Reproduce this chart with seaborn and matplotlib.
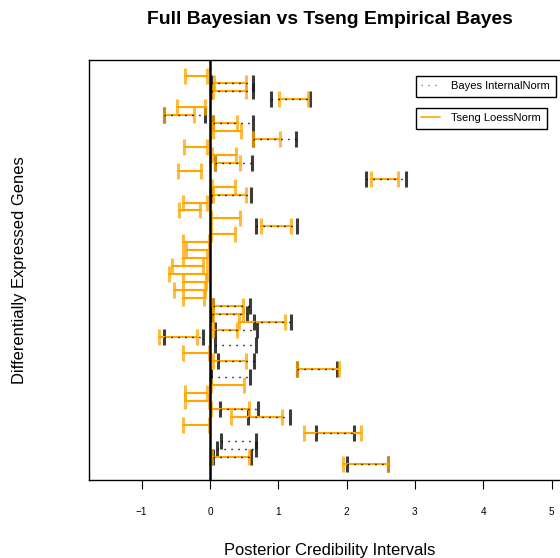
import numpy as np
import pandas as pd
import matplotlib
matplotlib.use("Agg")
import matplotlib.pyplot as plt
from matplotlib.lines import Line2D
import seaborn as sns

nan = np.nan
# gene index (1 = top row)
gene = list(range(1, 51))
bayes_lo = [nan, 0.02, 0.02, 0.90, nan, -0.67, 0.05, nan, 0.63, nan,
            nan, 0.08, nan, 2.28, nan, 0.02, nan, nan, nan, 0.67,
            nan, nan, nan, nan, nan, nan, nan, nan, nan, 0.04,
            0.03, 0.64, 0.08, -0.67, 0.08, nan, 0.11, 1.27, 0.02, nan,
            nan, nan, 0.15, 0.56, nan, 1.55, 0.16, 0.10, 0.04, 2.00]
bayes_hi = [nan, 0.63, 0.63, 1.47, nan, -0.08, 0.63, nan, 1.26, nan,
            nan, 0.62, nan, 2.87, nan, 0.60, nan, nan, nan, 1.28,
            nan, nan, nan, nan, nan, nan, nan, nan, nan, 0.58,
            0.54, 1.19, 0.69, -0.10, 0.67, nan, 0.65, 1.86, 0.59, nan,
            nan, nan, 0.70, 1.17, nan, 2.11, 0.68, 0.67, 0.60, 2.61]
tseng_lo = [-0.37, 0.06, 0.04, 1.01, -0.49, -0.68, 0.05, 0.05, 0.63, -0.38,
            0.03, 0.08, -0.47, 2.36, 0.03, 0.04, -0.40, -0.45, 0.015, 0.75,
            0.015, -0.39, -0.35, -0.39, -0.55, -0.60, -0.39, -0.53, -0.40, 0.05,
            0.04, 0.43, 0.04, -0.75, nan, -0.39, 0.04, 1.28, nan, 0.02,
            -0.37, -0.36, 0.02, 0.31, -0.39, 1.38, nan, nan, 0.03, 1.95]
tseng_hi = [-0.04, 0.52, 0.52, 1.44, -0.07, -0.24, 0.40, 0.45, 1.02, -0.04,
            0.38, 0.44, -0.13, 2.75, 0.36, 0.53, -0.05, -0.14, 0.44, 1.19,
            0.36, -0.01, -0.02, -0.04, -0.10, -0.04, -0.06, -0.07, -0.09, 0.49,
            0.48, 1.10, 0.40, -0.19, nan, -0.02, 0.53, 1.89, nan, 0.50,
            -0.04, -0.02, 0.57, 1.06, -0.02, 2.21, nan, nan, 0.57, 2.61]
x_ticks = [-1, 0, 1, 2, 3, 4, 5]
legend_labels = ["Bayes InternalNorm", "Tseng LoessNorm"]

sns.set_style("white")
plt.rcParams["font.family"] = ["Liberation Sans", "DejaVu Sans"]
plt.rcParams["text.color"] = "black"
plt.rcParams["axes.labelcolor"] = "black"
plt.rcParams["xtick.color"] = "black"
plt.rcParams["ytick.color"] = "black"

W, H = 560, 558
fig = plt.figure(figsize=(W / 100, H / 100), dpi=100)
ax = fig.add_axes([89.3 / W, 1 - 480 / H, (570 - 89.3) / W, 420 / H])

def long_form(lo, hi):
    df = pd.DataFrame({"gene": gene, "lo": lo, "hi": hi}).dropna()
    return df.melt(id_vars="gene", value_vars=["lo", "hi"],
                   var_name="end", value_name="x")

t_long = long_form(tseng_lo, tseng_hi)
b_long = long_form(bayes_lo, bayes_hi)

ORANGE = "#FFA500"
# Tseng lines
sns.lineplot(data=t_long, x="x", y="gene", units="gene", estimator=None,
             color=ORANGE, linewidth=1.5, ax=ax, legend=False)
# Bayes dotted lines
sns.lineplot(data=b_long, x="x", y="gene", units="gene", estimator=None,
             color="black", linewidth=1.0, linestyle=(0, (1, 4)), ax=ax,
             legend=False)
# caps
sns.scatterplot(data=b_long, x="x", y="gene", marker="|", s=125,
                linewidth=2.2, color="#1a1a1a", alpha=0.85, ax=ax, legend=False)
sns.scatterplot(data=t_long, x="x", y="gene", marker="|", s=125,
                linewidth=2.2, color=ORANGE, alpha=0.75, ax=ax, legend=False)

ax.axvline(0, color="black", lw=1.8, zorder=5)

ax.set_xlim(-1.767, 5.27)
ax.set_ylim(51.96, -0.96)
ax.set_xticks(x_ticks)
ax.set_yticks([])
ax.set_xlabel("")
ax.set_ylabel("")
ax.tick_params(axis="x", direction="out", length=6.5, width=0.8,
               pad=13, labelsize=7.2, bottom=True, color="black",
               labelcolor="black")
for s in ax.spines.values():
    s.set_color("black")
    s.set_linewidth(1.0)

fig.text(329.7 / W, 1 - 20 / H, "Full Bayesian vs Tseng Empirical Bayes",
         ha="center", va="center", fontsize=13.9, fontweight="bold",
         color="black")
fig.text(329.7 / W, 1 - 550 / H, "Posterior Credibility Intervals",
         ha="center", va="center", fontsize=11.9, color="black")
fig.text(20 / W, 1 - 270 / H, "Differentially Expressed Genes",
         ha="center", va="center", rotation=90, fontsize=11.9, color="black")

def make_legend(handle, label, top_px):
    leg = ax.legend([handle], [label], loc="upper left",
                    bbox_to_anchor=(415.7 / W, 1 - top_px / H),
                    bbox_transform=fig.transFigure, borderaxespad=0,
                    frameon=True, fancybox=False, framealpha=1,
                    edgecolor="black", fontsize=8, handlelength=1.7,
                    handletextpad=1.0, borderpad=0.5, labelcolor="black")
    leg.get_frame().set_linewidth(1.0)
    return leg

leg1 = make_legend(Line2D([], [], color="gray", lw=1.0, linestyle=(0, (1, 4))),
                   legend_labels[0], 75.7)
ax.add_artist(leg1)
make_legend(Line2D([], [], color=ORANGE, lw=1.2), legend_labels[1], 107.7)

fig.savefig("out.png", dpi=100)
